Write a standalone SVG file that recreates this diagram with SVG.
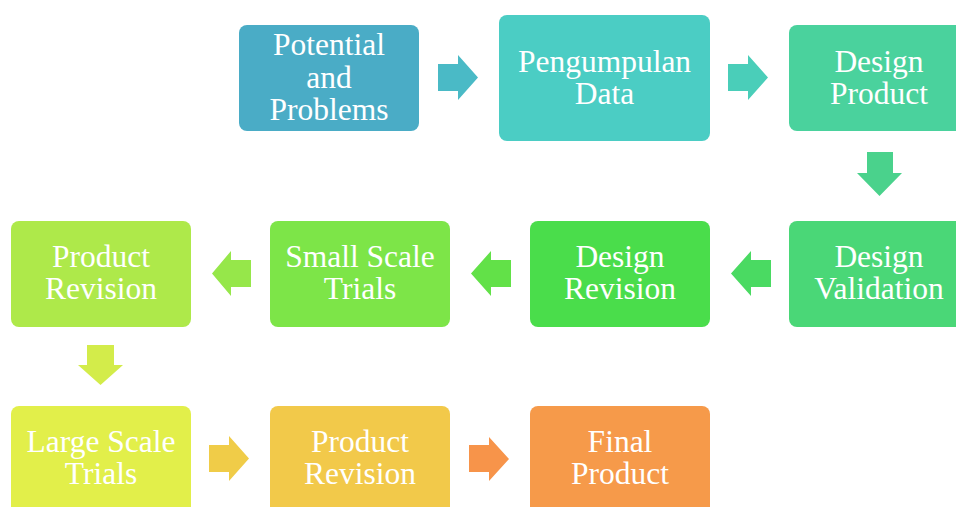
<svg xmlns="http://www.w3.org/2000/svg" width="956" height="507" viewBox="0 0 956 507">
  <style>
    .box { stroke: none; }
    .lbl { font-family: 'Liberation Serif', 'DejaVu Serif', serif; font-size: 31.5px; fill: #ffffff; text-anchor: middle; }
  </style>
  <rect width="956" height="507" fill="#ffffff"/>

  <!-- process steps -->
  <g id="potential-problems">
    <rect class="box" x="239" y="25" width="180" height="106" rx="8" fill="#4AACC6"/>
    <text class="lbl" x="329" y="55">Potential</text>
    <text class="lbl" x="329" y="87.5">and</text>
    <text class="lbl" x="329" y="120">Problems</text>
  </g>
  <g id="pengumpulan-data">
    <rect class="box" x="499" y="15" width="211" height="126" rx="8" fill="#4BCDC4"/>
    <text class="lbl" x="604.5" y="72">Pengumpulan</text>
    <text class="lbl" x="604.5" y="104">Data</text>
  </g>
  <g id="design-product">
    <rect class="box" x="789" y="25" width="180" height="106" rx="8" fill="#4AD29D"/>
    <text class="lbl" x="879" y="72">Design</text>
    <text class="lbl" x="879" y="104">Product</text>
  </g>
  <g id="design-validation">
    <rect class="box" x="789" y="221" width="180" height="106" rx="8" fill="#4AD777"/>
    <text class="lbl" x="879" y="267">Design</text>
    <text class="lbl" x="879" y="299">Validation</text>
  </g>
  <g id="design-revision">
    <rect class="box" x="530" y="221" width="180" height="106" rx="8" fill="#4ADD4B"/>
    <text class="lbl" x="620" y="267">Design</text>
    <text class="lbl" x="620" y="299">Revision</text>
  </g>
  <g id="small-scale-trials">
    <rect class="box" x="270" y="221" width="180" height="106" rx="8" fill="#7DE548"/>
    <text class="lbl" x="360" y="267">Small Scale</text>
    <text class="lbl" x="360" y="299">Trials</text>
  </g>
  <g id="product-revision-1">
    <rect class="box" x="11" y="221" width="180" height="106" rx="8" fill="#AEE94A"/>
    <text class="lbl" x="101" y="267">Product</text>
    <text class="lbl" x="101" y="299">Revision</text>
  </g>
  <g id="large-scale-trials">
    <rect class="box" x="11" y="406" width="180" height="110" rx="8" fill="#E2EF4A"/>
    <text class="lbl" x="101" y="452">Large Scale</text>
    <text class="lbl" x="101" y="484">Trials</text>
  </g>
  <g id="product-revision-2">
    <rect class="box" x="270" y="406" width="180" height="110" rx="8" fill="#F2C94A"/>
    <text class="lbl" x="360" y="452">Product</text>
    <text class="lbl" x="360" y="484">Revision</text>
  </g>
  <g id="final-product">
    <rect class="box" x="530" y="406" width="180" height="110" rx="8" fill="#F69A4A"/>
    <text class="lbl" x="620" y="452">Final</text>
    <text class="lbl" x="620" y="484">Product</text>
  </g>

  <!-- block arrows between steps -->
  <g id="connectors">
    <polygon points="438,64 458,64 458,55 478,77.5 458,100 458,91 438,91" fill="#4ABAC6"/>
    <polygon points="728,64 748,64 748,55 768,77.5 748,100 748,91 728,91" fill="#4ACEB9"/>
    <polygon points="867,152 893,152 893,173 902,173 879.5,196 857,173 867,173" fill="#4AD28C"/>
    <polygon points="771,260 751,260 751,251 731,273.5 751,296 751,287 771,287" fill="#4ADA62"/>
    <polygon points="511,260 491,260 491,251 471,273.5 491,296 491,287 511,287" fill="#62E148"/>
    <polygon points="251,260 231,260 231,251 212,273.5 231,296 231,287 251,287" fill="#96E74A"/>
    <polygon points="87,345 114,345 114,365 123,365 100.5,385 78,365 87,365" fill="#D3EC4A"/>
    <polygon points="209,445 229,445 229,436 249,458.5 229,481 229,472 209,472" fill="#F0CC48"/>
    <polygon points="469,445 489,445 489,437 509,459 489,481 489,472 469,472" fill="#F7944A"/>
  </g>
</svg>
